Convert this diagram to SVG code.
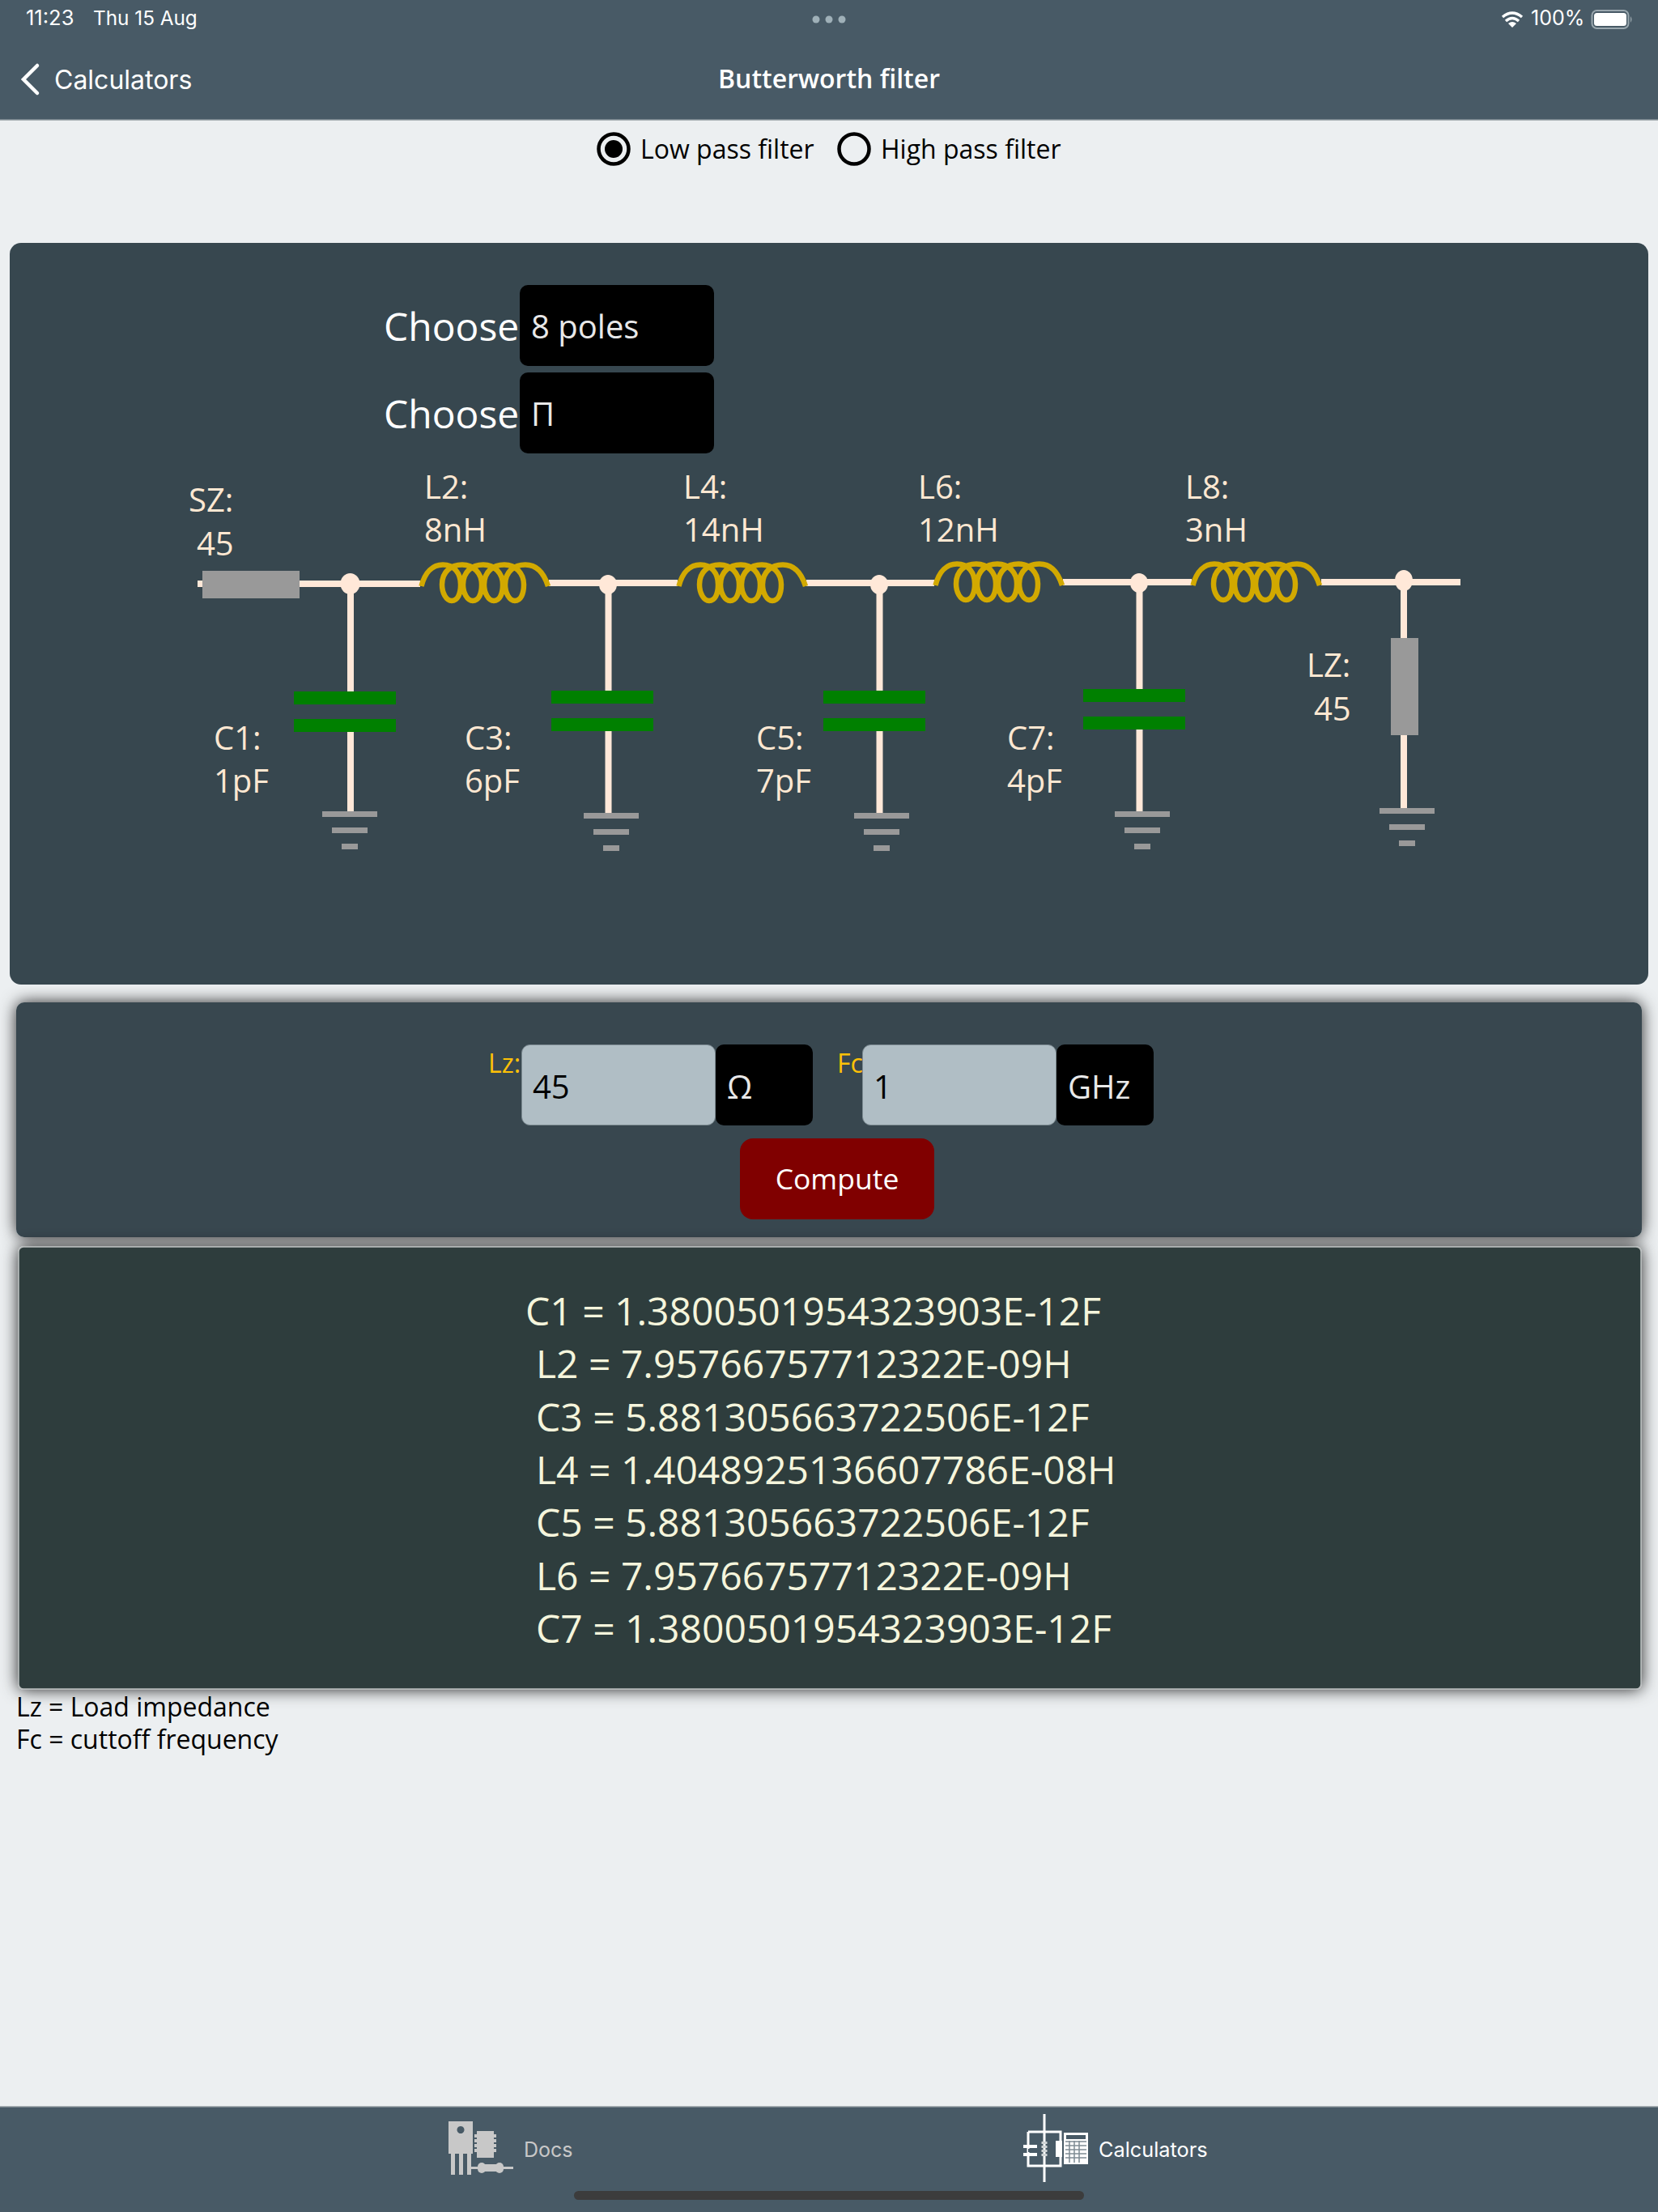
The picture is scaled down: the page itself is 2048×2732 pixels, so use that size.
<svg xmlns="http://www.w3.org/2000/svg" width="2048" height="2732" viewBox="0 0 2048 2732">
<style>
text{font-family:"Open Sans","Noto Sans",sans-serif}
.ui{font-family:Inter,Roboto,sans-serif;fill:#fff}
.lab{font-size:40px;fill:#ffe8d2}
.res{font-size:48px;fill:#f5f5dc}
.wire{stroke:#ffe8d8;stroke-width:8;fill:none}
.cap{fill:#008000}
.gnd{fill:#999}
.blk{fill:#000}
.inp{fill:#b0bec5;stroke:#7d8b92;stroke-width:1}
.coil{fill:none;stroke:#d2a900;stroke-width:6.500}
.sel{font-size:40px;fill:#e8e8e8}
.ch{font-size:48px;fill:#fff}
.icon{fill:#c8c8c8}
</style>
<defs>
<filter id="sh" x="-5%" y="-20%" width="110%" height="140%"><feDropShadow dx="0" dy="0" stdDeviation="10" flood-color="#000" flood-opacity=".85"/></filter>
<path id="coil" d="M1.500 30C6 12 16 3.500 28 3.500C42 3.500 50 14 50 28C50 40 46 48 39 48C32 48 27 38 27 28C27 12 38 3.500 52 3.500C66 3.500 76 14 76 28C76 40 72 48 65 48C58 48 53 38 53 28C53 12 64 3.500 78 3.500C92 3.500 102 14 102 28C102 40 98 48 91 48C84 48 79 38 79 28C79 12 90 3.500 104 3.500C118 3.500 128 14 128 28C128 40 124 48 117 48C110 48 105 38 105 28C105 12 116 3.500 130 3.500C144 3.500 153 14 158 30"/>
<g id="ground"><rect class="gnd" x="0" y="0" width="68" height="7"/><rect class="gnd" x="12" y="20" width="44" height="7"/><rect class="gnd" x="24" y="40" width="20" height="7"/></g>
<g id="cap2"><rect class="cap" x="0" y="0" width="126" height="16"/><rect class="cap" x="0" y="34" width="126" height="16"/></g>
</defs>
<rect width="2048" height="2732" fill="#eceff1"/>

<g id="header">
<rect width="2048" height="148" fill="#485a66"/>
<rect y="147.500" width="2048" height="1.500" fill="#a8b0b4"/>
<text class="ui" x="32" y="31" font-size="25.500">11:23</text>
<text class="ui" x="115" y="31" font-size="24.300">Thu 15 Aug</text>
<circle cx="1008" cy="24" r="4.500" fill="#9fb0b8"/><circle cx="1024" cy="24" r="4.500" fill="#9fb0b8"/><circle cx="1040" cy="24" r="4.500" fill="#9fb0b8"/>
<path d="M1856 21Q1868 11 1880 21M1860 26Q1868 19 1876 26" fill="none" stroke="#fff" stroke-width="3.500"/><path d="M1863 29L1868 34L1873 29Q1868 25 1863 29Z" fill="#fff"/>
<text class="ui" x="1891" y="31" font-size="25">100%</text>
<rect x="1966.500" y="13" width="45" height="22" rx="6" fill="none" stroke="#9aa7ae" stroke-width="2"/>
<rect x="1969" y="16" width="40" height="16" rx="3.500" fill="#fff"/>
<path d="M2014 20Q2017 24 2014 28Z" fill="#9aa7ae"/>
<path d="M46 81L29 98L46 115" fill="none" stroke="#fff" stroke-width="4.500" stroke-linecap="round"/>
<text class="ui" x="67" y="110" font-size="32">Calculators</text>
<text x="1024" y="109" font-size="32" font-weight="600" fill="#fff" text-anchor="middle">Butterworth filter</text>
</g>

<g id="radio-low"><circle cx="758" cy="184" r="18.500" fill="none" stroke="#000" stroke-width="4.500"/><circle cx="758" cy="184" r="11" fill="#000"/><text x="791" y="196" font-size="32" fill="#000">Low pass filter</text></g>
<g id="radio-high"><circle cx="1055" cy="184" r="18.500" fill="none" stroke="#000" stroke-width="4.500"/><text x="1088" y="196" font-size="32" fill="#000">High pass filter</text></g>

<rect id="panel-circuit" x="12" y="300" width="2024" height="916" rx="14" fill="#37474f"/>
<g id="choose-poles"><text class="ch" x="474" y="420.500">Choose</text><rect class="blk" x="642" y="352" width="240" height="100" rx="10"/><text class="sel" x="656" y="418">8 poles</text></g>
<g id="choose-type"><text class="ch" x="474" y="528.500">Choose</text><rect class="blk" x="642" y="460" width="240" height="100" rx="10"/><text class="sel" x="656" y="526">Π</text></g>

<g id="connectors">
<path class="wire" d="M244 721H519M678 720H837M996 720H1154M1313 719H1472M1632 719H1804"/>
<path class="wire" d="M433 721V855M433 903V1004M751.500 721V853M751.500 902V1006M1086.500 721V853M1086.500 903V1006M1407.500 720V851M1407.500 901V1004M1734 717V788M1734 908V1000"/>
</g>

<g id="SZ"><rect x="250" y="705" width="120" height="34" fill="#999"/><text class="lab" x="233" y="632">SZ:</text><text class="lab" x="243" y="686">45</text></g>
<g id="nodes">
<ellipse cx="432.500" cy="721" rx="12" ry="13" fill="#ffe8d8"/><ellipse cx="751" cy="722" rx="11" ry="12" fill="#ffe8d8"/><ellipse cx="1086" cy="722" rx="11" ry="12" fill="#ffe8d8"/><ellipse cx="1407" cy="720" rx="11" ry="12" fill="#ffe8d8"/><ellipse cx="1734" cy="717" rx="11" ry="13" fill="#ffe8d8"/>
</g>
<g id="C1"><use href="#cap2" x="363" y="854"/><use href="#ground" x="398" y="1002"/><text class="lab" x="264" y="926">C1:</text><text class="lab" x="264" y="979">1pF</text></g>
<g id="L2"><use href="#coil" class="coil" x="519" y="694"/><text class="lab" x="524" y="616">L2:</text><text class="lab" x="524" y="669">8nH</text></g>
<g id="C3"><use href="#cap2" x="681" y="853"/><use href="#ground" x="721" y="1004"/><text class="lab" x="574" y="926">C3:</text><text class="lab" x="574" y="979">6pF</text></g>
<g id="L4"><use href="#coil" class="coil" x="837" y="694"/><text class="lab" x="844" y="616">L4:</text><text class="lab" x="844" y="669">14nH</text></g>
<g id="C5"><use href="#cap2" x="1017" y="853"/><use href="#ground" x="1055" y="1004"/><text class="lab" x="934" y="926">C5:</text><text class="lab" x="934" y="979">7pF</text></g>
<g id="L6"><use href="#coil" class="coil" x="1154" y="693"/><text class="lab" x="1134" y="616">L6:</text><text class="lab" x="1134" y="669">12nH</text></g>
<g id="C7"><use href="#cap2" x="1338" y="851"/><use href="#ground" x="1377" y="1002"/><text class="lab" x="1244" y="926">C7:</text><text class="lab" x="1244" y="979">4pF</text></g>
<g id="L8"><use href="#coil" class="coil" x="1472" y="693"/><text class="lab" x="1464" y="616">L8:</text><text class="lab" x="1464" y="669">3nH</text></g>
<g id="LZ"><rect x="1718" y="788" width="34" height="120" fill="#999"/><use href="#ground" x="1704" y="998"/><text class="lab" x="1614" y="836">LZ:</text><text class="lab" x="1623" y="890">45</text></g>

<g id="panel-input">
<rect x="20" y="1238" width="2008" height="290" rx="10" fill="#37474f" filter="url(#sh)"/>
<text x="603" y="1325" font-size="32" fill="#ffc107">Lz:</text>
<rect class="inp" x="644.500" y="1290.500" width="239" height="99" rx="10"/>
<rect class="blk" x="884" y="1290" width="120" height="100" rx="10"/>
<text x="658" y="1357" font-size="40" fill="#000">45</text>
<text x="898" y="1357" font-size="40" fill="#e8e8e8">Ω</text>
<text x="1034" y="1325" font-size="32" fill="#ffc107">Fc</text>
<rect class="inp" x="1065.500" y="1290.500" width="239" height="99" rx="10"/>
<rect class="blk" x="1305" y="1290" width="120" height="100" rx="10"/>
<text x="1079" y="1357" font-size="40" fill="#000">1</text>
<text x="1319" y="1357" font-size="40" fill="#e8e8e8">GHz</text>
</g>
<g id="compute"><rect x="914" y="1406" width="240" height="100" rx="16" fill="#800000"/><text x="1034" y="1469" font-size="35.500" fill="#fff" text-anchor="middle">Compute</text></g>

<g id="panel-results">
<rect x="23" y="1540" width="2004" height="546" rx="6" fill="#2f3e3e" filter="url(#sh)" stroke="#b8bcbc" stroke-width="1.500"/>
<text class="res" x="649" y="1636.500">C1 = 1.3800501954323903E-12F</text>
<text class="res" x="662" y="1702"> L2 = 7.95766757712322E-09H</text>
<text class="res" x="662" y="1767.500">C3 = 5.881305663722506E-12F</text>
<text class="res" x="662" y="1833">L4 = 1.4048925136607786E-08H</text>
<text class="res" x="662" y="1898">C5 = 5.881305663722506E-12F</text>
<text class="res" x="662" y="1963.500">L6 = 7.95766757712322E-09H</text>
<text class="res" x="662" y="2029">C7 = 1.3800501954323903E-12F</text>
</g>

<g id="legend" font-size="32" fill="#000"><text x="20" y="2120">Lz = Load impedance</text><text x="20" y="2160">Fc = cuttoff frequency</text></g>

<g id="tabbar">
<rect y="2602" width="2048" height="130" fill="#485a66"/>
<rect y="2601" width="2048" height="1.500" fill="#a8b0b4"/>
<g id="tab-docs">
<path class="icon" fill-rule="evenodd" d="M554 2620H584V2660H582V2686H577V2660H572V2686H567V2660H562V2686H557V2660H554ZM569 2626a4.500 4.500 0 1 0 .01 0Z"/>
<path class="icon" d="M589 2632H610V2636H613V2640H610V2642H613V2646H610V2648H613V2652H610V2654H613V2658H610V2665H589V2658H586V2654H589V2652H586V2648H589V2646H586V2642H589V2640H586V2636H589Z"/>
<rect class="icon" x="580" y="2676" width="54" height="3"/><rect class="icon" x="590" y="2671" width="10" height="13" rx="5"/><rect class="icon" x="612" y="2671" width="10" height="13" rx="5"/><rect class="icon" x="596" y="2673" width="20" height="9"/>
<text x="647" y="2664" font-size="25" fill="#c8c8c8" style="font-family:Inter,Roboto,sans-serif">Docs</text>
</g>
<g id="tab-calculators">
<path d="M1290 2611V2695M1270 2633H1310V2675H1270V2633" fill="none" stroke="#fff" stroke-width="3"/>
<rect x="1264" y="2649" width="17" height="4" fill="#fff"/><rect x="1264" y="2659" width="17" height="4" fill="#fff"/>
<rect x="1270" y="2654" width="3" height="4" fill="#485a66"/>
<path d="M1290 2645V2663" stroke="#cfd4d6" stroke-width="7" stroke-dasharray="3 2" fill="none"/>
<rect x="1304" y="2644" width="8" height="20" fill="#fff"/>
<rect x="1314" y="2634" width="30" height="39" fill="#fff"/>
<rect x="1317" y="2637" width="24" height="5" fill="#485a66"/>
<path d="M1316 2645H1342M1316 2650H1342M1316 2655H1342M1316 2660H1342M1316 2665H1342M1321 2644V2671M1327 2644V2671M1333 2644V2671" stroke="#7f8c94" stroke-width="1.500"/>
<text class="ui" x="1357" y="2664" font-size="25.300">Calculators</text>
</g>
<rect x="709" y="2706" width="630" height="11" rx="5.500" fill="#3c3c3c"/>
</g>
</svg>
